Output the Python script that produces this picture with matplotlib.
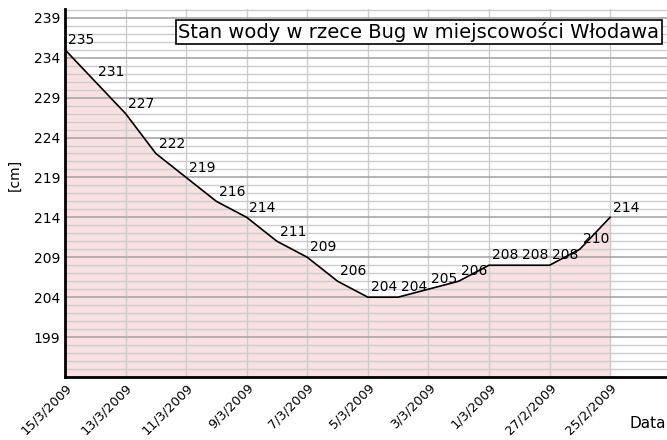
import matplotlib.pyplot as plt
from matplotlib.ticker import MultipleLocator, FixedLocator

dates = ["15/3/2009", "14/3/2009", "13/3/2009", "12/3/2009", "11/3/2009",
         "10/3/2009", "9/3/2009", "8/3/2009", "7/3/2009", "6/3/2009",
         "5/3/2009", "4/3/2009", "3/3/2009", "2/3/2009", "1/3/2009",
         "28/2/2009", "27/2/2009", "26/2/2009", "25/2/2009"]
levels = [235, 231, 227, 222, 219, 216, 214, 211, 209, 206,
          204, 204, 205, 206, 208, 208, 208, 210, 214]

x = list(range(len(levels)))

fig = plt.figure(figsize=(6.67, 4.4), dpi=100)
ax = fig.add_axes([65 / 667, 63 / 440, 602 / 667, 368 / 440])

ax.fill_between(x, levels, 194, color="#f9e1e1", zorder=1)
ax.plot(x, levels, color="black", lw=1.2, zorder=3)
for xi, v in zip(x, levels):
    ax.annotate(str(v), (xi, v), xytext=(2, 2), textcoords="offset points",
                ha="left", va="bottom", fontsize=10, zorder=4)

ax.set_xlim(0, 19.88)
ax.set_ylim(194, 240.1)

ax.yaxis.set_major_locator(FixedLocator(range(199, 240, 5)))
ax.yaxis.set_minor_locator(MultipleLocator(1))
ax.set_xticks(x[::2])
ax.set_xticklabels(dates[::2], rotation=45, ha="right", rotation_mode="anchor")
ax.tick_params(axis="both", which="both", length=0)
ax.tick_params(axis="y", labelsize=10)
ax.tick_params(axis="x", labelsize=9.3, pad=3)

ax.grid(which="major", axis="y", color="#a8a8a8", lw=1.2, zorder=2)
ax.grid(which="minor", axis="y", color="#cccccc", lw=1.0, zorder=2)
ax.grid(which="major", axis="x", color="#cccccc", lw=1.0, zorder=2)
for ln in ax.get_xgridlines() + ax.get_ygridlines():
    ln.set_zorder(2)

ax.spines["top"].set_visible(False)
ax.spines["right"].set_visible(False)
ax.spines["left"].set_linewidth(2)
ax.spines["bottom"].set_linewidth(2)
ax.spines["left"].set_zorder(5)
ax.spines["bottom"].set_zorder(5)

ax.set_ylabel("[cm]", fontsize=10)
ax.yaxis.set_label_coords(-0.072, 0.55)
fig.text(0.999, 0.02, "Data", ha="right", va="bottom", fontsize=11)

ax.text(0.987, 0.965, "Stan wody w rzece Bug w miejscowości Włodawa",
        transform=ax.transAxes, ha="right", va="top", fontsize=14, zorder=6,
        bbox=dict(boxstyle="square,pad=0.12", fc="white", ec="black", lw=1.2))

fig.savefig("out.png")
